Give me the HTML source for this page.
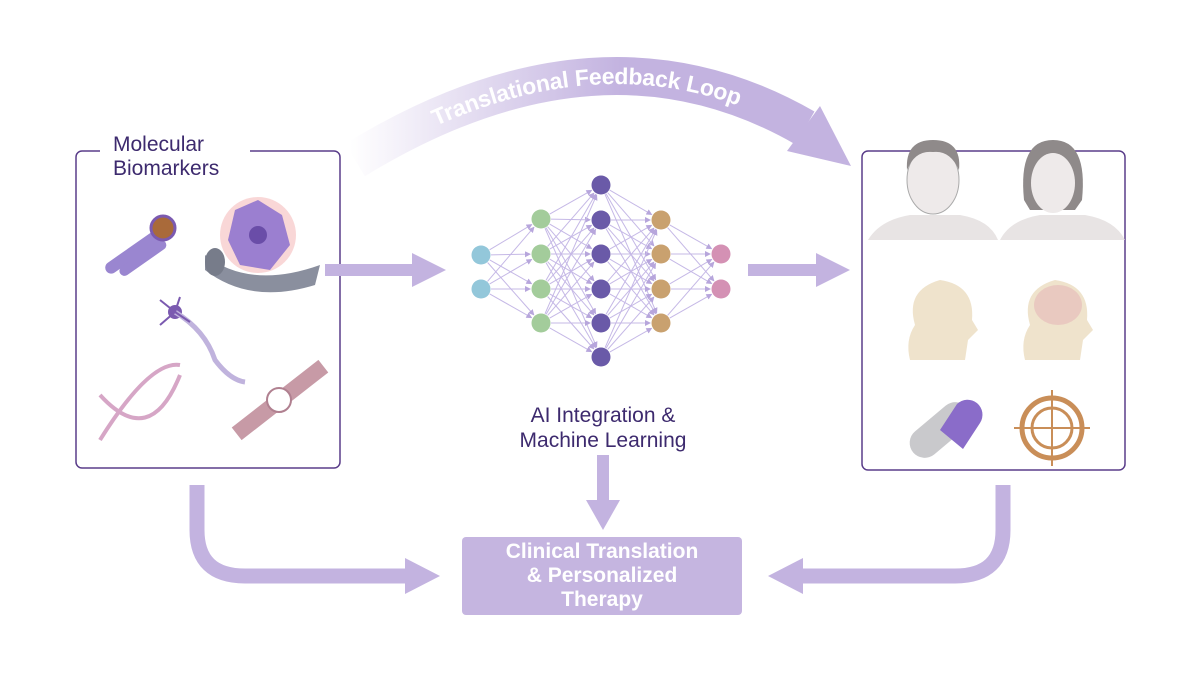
<!DOCTYPE html>
<html><head><meta charset="utf-8"><style>
html,body{margin:0;padding:0;background:#fff}
svg{display:block}
text{font-family:"Liberation Sans",sans-serif}
</style></head><body>
<svg width="1200" height="675" viewBox="0 0 1200 675" xmlns="http://www.w3.org/2000/svg">
<defs>
<linearGradient id="g1" x1="350" y1="0" x2="620" y2="0" gradientUnits="userSpaceOnUse">
<stop offset="0" stop-color="#c3b3e0" stop-opacity="0"/>
<stop offset="1" stop-color="#c3b3e0"/>
</linearGradient>
<path id="arc" d="M355,160 Q600,10 805,128"/>
<marker id="ah" markerWidth="6" markerHeight="6" refX="5" refY="3" orient="auto" markerUnits="userSpaceOnUse"><path d="M0,0 L6,3 L0,6z" fill="#b7a6dc"/></marker>
</defs>
<path d="M355,160 Q600,10 805,128" fill="none" stroke="url(#g1)" stroke-width="38"/>
<polygon points="820,106 787,151 851,166" fill="#c3b3e0"/>
<text font-size="23" font-weight="bold" fill="#fff" dy="8"><textPath href="#arc" startOffset="88">Translational Feedback Loop</textPath></text>

<rect x="76" y="151" width="264" height="317" rx="6" fill="none" stroke="#5a3d8a" stroke-width="1.5"/>
<rect x="100" y="130" width="150" height="50" fill="#fff"/>
<text x="113" y="151" font-size="21" fill="#3d2a6e">Molecular</text>
<text x="113" y="175" font-size="21" fill="#3d2a6e">Biomarkers</text>
<rect x="862" y="151" width="263" height="319" rx="6" fill="none" stroke="#5a3d8a" stroke-width="1.5"/>

<g>
<rect x="100" y="245" width="70" height="12" rx="6" fill="#9a86d0" transform="rotate(-35 135 251)"/>
<rect x="116" y="255" width="55" height="10" rx="5" fill="#9a86d0" transform="rotate(-35 140 260)"/>
<circle cx="163" cy="228" r="12" fill="#a96a3a" stroke="#7b5ab0" stroke-width="3"/>
<path d="M205,255 Q250,290 320,265 L315,285 Q250,305 205,270z" fill="#8a8f9e"/>
<circle cx="258" cy="235" r="38" fill="#f6c6c6" opacity="0.7"/>
<path d="M235,210 L258,200 L282,215 L290,245 L270,270 L240,265 L228,240z" fill="#9b7fd0"/>
<circle cx="258" cy="235" r="9" fill="#6a4da8"/>
<ellipse cx="215" cy="262" rx="10" ry="14" fill="#777c8a"/>
<circle cx="175" cy="312" r="7" fill="#7b5ab0"/>
<path d="M175,312 Q205,330 215,360 Q230,380 245,382" stroke="#c0b3dd" stroke-width="5" fill="none"/>
<path d="M160,300 L175,312 M160,325 L175,312 M180,297 L175,312 M190,322 L175,312" stroke="#7b5ab0" stroke-width="2"/>
<path d="M100,440 Q150,360 180,365 M100,395 Q150,450 180,375" stroke="#d6a6c6" stroke-width="4" fill="none"/>
<rect x="225" y="392" width="110" height="16" fill="#c79aa6" transform="rotate(-38 280 400)"/>
<circle cx="279" cy="400" r="12" fill="#fff" stroke="#b08090" stroke-width="2"/>
</g>

<g stroke="#c5b8e6" stroke-width="1" marker-end="url(#ah)" id="edges"></g>
<g id="nodes"></g>

<path d="M325,270 L418,270" stroke="#c3b3e0" stroke-width="12"/>
<polygon points="412,253 446,270 412,287" fill="#c3b3e0"/>
<path d="M748,270 L822,270" stroke="#c3b3e0" stroke-width="12"/>
<polygon points="816,253 850,270 816,287" fill="#c3b3e0"/>
<path d="M603,455 L603,505" stroke="#c3b3e0" stroke-width="12"/>
<polygon points="586,500 603,530 620,500" fill="#c3b3e0"/>
<path d="M197,485 L197,530 Q197,576 245,576 L410,576" fill="none" stroke="#c3b3e0" stroke-width="15"/>
<polygon points="405,558 440,576 405,594" fill="#c3b3e0"/>
<path d="M1003,485 L1003,530 Q1003,576 955,576 L798,576" fill="none" stroke="#c3b3e0" stroke-width="15"/>
<polygon points="803,558 768,576 803,594" fill="#c3b3e0"/>

<text x="603" y="422" font-size="21" fill="#3d2a6e" text-anchor="middle">AI Integration &amp;</text>
<text x="603" y="447" font-size="21" fill="#3d2a6e" text-anchor="middle">Machine Learning</text>

<rect x="462" y="537" width="280" height="78" rx="4" fill="#c5b5e0"/>
<text font-size="21" font-weight="bold" fill="#fff" text-anchor="middle"><tspan x="602" y="558">Clinical Translation</tspan><tspan x="602" y="582">&amp; Personalized</tspan><tspan x="602" y="606">Therapy</tspan></text>

<g>
<path d="M868,240 Q880,220 910,215 L960,215 Q990,220 998,240z" fill="#e8e4e4"/>
<ellipse cx="933" cy="180" rx="26" ry="34" fill="#eeeaea" stroke="#aaa" stroke-width="1"/>
<path d="M907,170 Q905,140 933,140 Q962,140 959,170 Q950,150 933,152 Q915,150 907,170z" fill="#8f8a8a"/>
<path d="M1000,240 Q1010,220 1040,215 L1085,215 Q1115,220 1125,240z" fill="#e8e4e4"/>
<path d="M1024,200 Q1018,140 1053,140 Q1088,140 1082,200 L1075,210 L1030,210z" fill="#8f8a8a"/>
<ellipse cx="1053" cy="183" rx="22" ry="30" fill="#eeeaea"/>
<path d="M910,360 Q905,340 915,325 Q905,290 940,280 Q975,285 972,320 L978,330 L968,340 L965,360z" fill="#efe3cc"/>
<path d="M1025,360 Q1020,340 1030,325 Q1020,290 1055,280 Q1090,285 1087,320 L1093,330 L1083,340 L1080,360z" fill="#efe3cc"/>
<ellipse cx="1058" cy="305" rx="24" ry="20" fill="#e9c9c0"/>
<rect x="905" y="415" width="70" height="30" rx="15" fill="#c9c9cc" transform="rotate(-40 940 430)"/>
<path d="M940,430 L957,404 A15,15 0 0 1 980,423 L963,449z" fill="#8a6cc9"/>
<circle cx="1052" cy="428" r="30" fill="none" stroke="#c98e58" stroke-width="5"/>
<circle cx="1052" cy="428" r="20" fill="none" stroke="#c98e58" stroke-width="3"/>
<path d="M1052,390 V466 M1014,428 H1090" stroke="#c98e58" stroke-width="2"/>
</g>

<script>
var L=[[481,[255,289],"#93c7da"],[541,[219,254,289,323],"#a3cc9b"],[601,[185,220,254,289,323,357],"#6a5aa8"],[661,[220,254,289,323],"#c9a16f"],[721,[254,289],"#d491b4"]];
var e=document.getElementById('edges'),n=document.getElementById('nodes'),ns="http://www.w3.org/2000/svg";
for(var i=0;i<4;i++){var a=L[i],b=L[i+1];a[1].forEach(function(y1){b[1].forEach(function(y2){var dx=b[0]-a[0],dy=y2-y1,d=Math.sqrt(dx*dx+dy*dy);var l=document.createElementNS(ns,'line');l.setAttribute('x1',a[0]+10*dx/d);l.setAttribute('y1',y1+10*dy/d);l.setAttribute('x2',b[0]-11*dx/d);l.setAttribute('y2',y2-11*dy/d);e.appendChild(l);});});}
L.forEach(function(a){a[1].forEach(function(y){var c=document.createElementNS(ns,'circle');c.setAttribute('cx',a[0]);c.setAttribute('cy',y);c.setAttribute('r',9.5);c.setAttribute('fill',a[2]);n.appendChild(c);});});
</script>
</svg>
</body></html>
